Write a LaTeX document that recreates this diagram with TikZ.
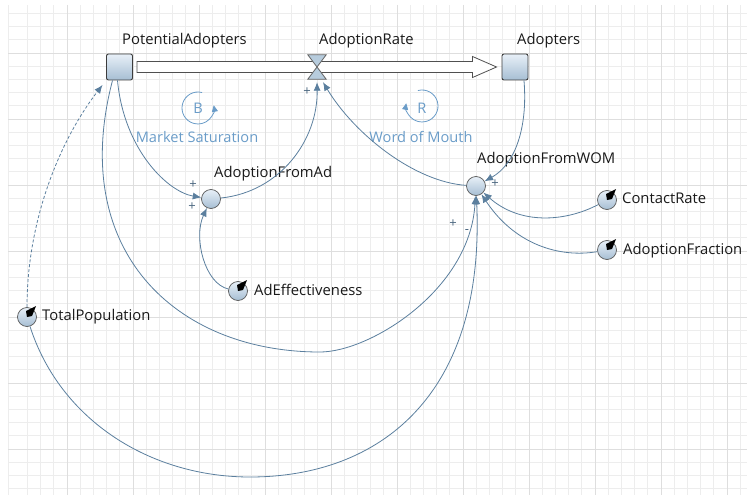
\documentclass[tikz,border=0pt]{standalone}
\usepackage{fontspec}
\setmainfont{Open Sans}
\usetikzlibrary{arrows.meta}
\begin{document}
\begin{tikzpicture}[x=1pt, y=-1pt,
  gridminor/.style={draw=black!7, line width=0.8pt},
  gridmajor/.style={draw=black!13, line width=0.9pt},
  stock/.style={draw=edgecol, line width=0.9pt, rounded corners=2pt, top color=fillhi, bottom color=filllo, minimum size=26pt, inner sep=0pt},
  aux/.style={circle, draw=edgecol!85, line width=0.7pt, top color=fillhi, bottom color=filllo, minimum size=19pt, inner sep=0pt},
  lbl/.style={anchor=base west, inner sep=0pt, text=black!90, font=\fontsize{14.8}{16}\selectfont},
  looplbl/.style={anchor=base, inner sep=0pt, text=loopcol, font=\fontsize{14.6}{16}\selectfont},
  link/.style={draw=linkcol, line width=0.8pt, -{Latex[length=8.5pt,width=7pt]}},
  loopc/.style={draw=loopcol, line width=0.8pt, -{Triangle[length=6.5pt,width=6pt]}},
  sign/.style={text=linkcol!80!black, inner sep=0pt, font=\fontsize{13}{13}\selectfont}]
\definecolor{edgecol}{HTML}{3C3C3C}
\definecolor{fillhi}{HTML}{E8F0F8}
\definecolor{filllo}{HTML}{A6BED3}
\definecolor{linkcol}{HTML}{5B7F9E}
\definecolor{loopcol}{HTML}{6A9CC8}
\definecolor{valvecol}{HTML}{B7CCDD}
\useasboundingbox (0,0) rectangle (747,495);
\foreach \i in {2,...,56} \draw[gridminor] ({1+13.2*\i},5) -- ({1+13.2*\i},495);
\foreach \j in {2,...,38} \draw[gridminor] (8,{-13+13.2*\j}) -- (747,{-13+13.2*\j});
\draw[gridminor] (8,5) -- (8,495);
\foreach \i in {0,...,10} \draw[gridmajor] ({67+66*\i},5) -- ({67+66*\i},495);
\foreach \j in {0,...,6} \draw[gridmajor] (8,{53+66*\j}) -- (747,{53+66*\j});

\node[stock] (pa) at (119.5,67) {};
\node[stock] (ad) at (515,67) {};
\node[inner sep=0pt, minimum width=18pt, minimum height=24pt] (ar) at (317,67) {};
\node[aux] (afa) at (211,199) {};
\node[aux] (afw) at (476,186) {};
\node[aux] (ae) at (238,291) {};
\node[aux] (cr) at (607,200) {};
\node[aux] (af) at (607,250) {};
\node[aux] (tp) at (27,317) {};
\foreach \c in {ae,cr,af,tp} \fill[black] (\c.center) -- ++(-1,-6) -- ++(10,-5) -- ++(-4,10) -- cycle;

\draw[draw=edgecol!90, line width=0.8pt, fill=white] ([xshift=4pt,yshift=5.5pt]pa.east) -- ([xshift=-29pt,yshift=5.5pt]ad.west) -- ([xshift=-29pt,yshift=10.5pt]ad.west) -- ([xshift=-5pt]ad.west) -- ([xshift=-29pt,yshift=-10.5pt]ad.west) -- ([xshift=-29pt,yshift=-5.5pt]ad.west) -- ([xshift=4pt,yshift=-5.5pt]pa.east) -- cycle;
\draw[draw=edgecol!80, line width=0.8pt, fill=valvecol] (ar.north west) -- (ar.north east) -- (ar.south west) -- (ar.south east) -- cycle;

\node[lbl] (pa label) at (122,45) {PotentialAdopters};
\node[lbl] (ar label) at (319,45) {AdoptionRate};
\node[lbl] (ad label) at (517,45) {Adopters};
\node[lbl] (afa label) at (214,177) {AdoptionFromAd};
\node[lbl] (afw label) at (477,163) {AdoptionFromWOM};
\node[lbl] (ae label) at (254,295) {AdEffectiveness};
\node[lbl] (cr label) at (622,203) {ContactRate};
\node[lbl] (af label) at (623,254) {AdoptionFraction};
\node[lbl] (tp label) at (42,320) {TotalPopulation};

\node[looplbl] (b) at (198,113) {B};
\node[looplbl] (r) at (422,113) {R};
\node[looplbl] (b label) at (197,142) {Market Saturation};
\node[looplbl] (r label) at (421,142) {Word of Mouth};
\draw[loopc] (198,108) ++(-75:16) arc[start angle=-75, end angle=-370, radius=16];
\draw[loopc] (422,106) ++(-105:16) arc[start angle=-105, end angle=190, radius=16];

\draw[link] ([xshift=-2pt]pa.south) .. controls (124,150) and (168,192) .. (afa);
\draw[link] (ae) .. controls (205,284) and (193,238) .. (afa);
\draw[link] (afa) .. controls (280,192) and (318,140) .. ([yshift=-3pt]ar.south);
\draw[link] (afw) .. controls (415,182) and (355,135) .. ([xshift=6pt,yshift=-3pt]ar.south);
\draw[link] ([xshift=9pt]ad.south) .. controls (528,130) and (514,165) .. (afw);
\draw[link] (cr) .. controls (565,222) and (520,225) .. (afw);
\draw[link] (af) .. controls (560,258) and (515,245) .. (afw);
\draw[link] ([xshift=-7pt]pa.south) .. controls (68,250) and (175,352) .. (320,352) .. controls (370,352) and (470,290) .. (afw);
\draw[link] (tp) .. controls (60,420) and (150,477) .. (250,477) .. controls (380,477) and (485,395) .. (afw);
\draw[link, dash pattern=on 3pt off 2pt] (tp) .. controls (27,220) and (60,140) .. ([xshift=-3.5pt,yshift=-4.5pt]pa.south west);

\node[sign] (s1) at (193,185) {+};
\node[sign] (s2) at (192,207) {+};
\node[sign] (s3) at (307,92) {+};
\node[sign] (s4) at (495,184) {+};
\node[sign] (s5) at (453,224) {+};
\node[sign] (s6) at (467,232) {-};
\end{tikzpicture}
\end{document}
